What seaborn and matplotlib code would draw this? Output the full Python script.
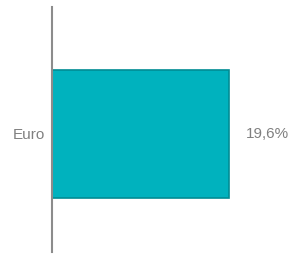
import matplotlib
matplotlib.use('Agg')
import matplotlib.pyplot as plt
import seaborn as sns

categories = ['Euro']
values = [19.6]
value_labels = ['19,6%']

sns.set_style('white')
plt.rcParams['font.family'] = ['Liberation Sans', 'DejaVu Sans']

fig = plt.figure(figsize=(2.9, 2.62), dpi=100)
ax = fig.add_axes([52 / 290, 1 - 252 / 262, 238 / 290, 245 / 262])

sns.barplot(x=values, y=categories, orient='h', ax=ax, width=0.522,
            color='#00B2BE', saturation=1, edgecolor='#008C94', linewidth=1.2)

ax.set_xlim(0, 19.6 * 238 / 177)
ax.set_ylim(0.482, -0.518)

for s in ['top', 'right', 'bottom']:
    ax.spines[s].set_visible(False)
ax.spines['left'].set_color('#8C8C8C')
ax.spines['left'].set_linewidth(1.5)

ax.set_xticks([])
ax.tick_params(axis='y', length=0, pad=5, labelsize=11, labelcolor='#808080')
ax.set_xlabel('')
ax.set_ylabel('')

for i, (v, lab) in enumerate(zip(values, value_labels)):
    ax.annotate(lab, xy=(v, i), xytext=(12, 0), textcoords='offset points',
                ha='left', va='center', fontsize=11, color='#808080')

fig.savefig('out.png', dpi=100)
